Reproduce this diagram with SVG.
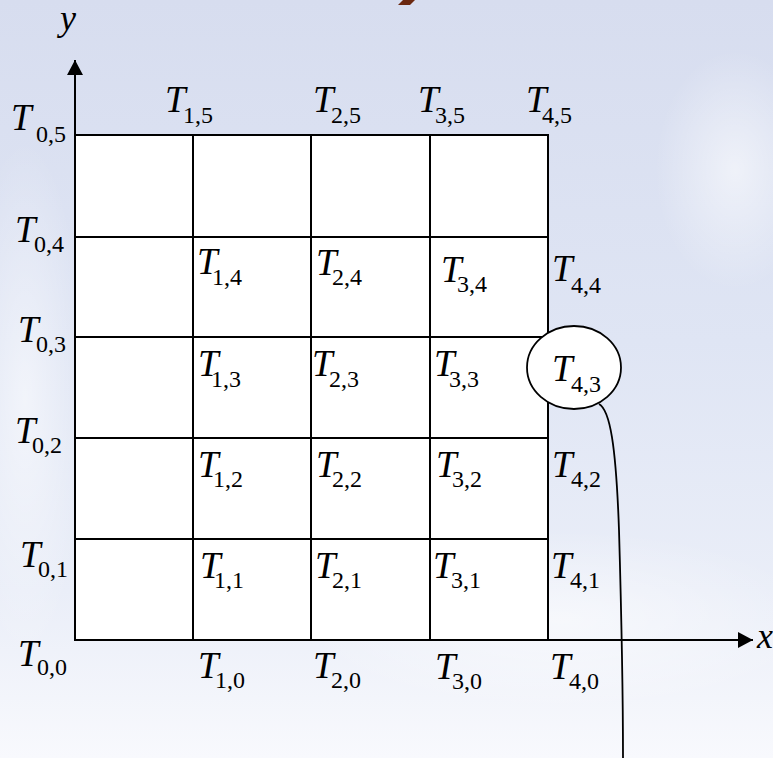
<svg xmlns="http://www.w3.org/2000/svg" width="773" height="758" viewBox="0 0 773 758">
<defs>
<linearGradient id="bg" x1="0" y1="0" x2="0" y2="1">
<stop offset="0" stop-color="#d7ddef"/>
<stop offset="0.45" stop-color="#dfe5f4"/>
<stop offset="0.78" stop-color="#eaeef8"/>
<stop offset="1" stop-color="#f8f9fd"/>
</linearGradient>
<radialGradient id="hlR" cx="0.5" cy="0.5" r="0.5">
<stop offset="0" stop-color="#ffffff" stop-opacity="0.55"/>
<stop offset="1" stop-color="#ffffff" stop-opacity="0"/>
</radialGradient>
<marker id="arr" markerWidth="16" markerHeight="16" refX="15" refY="8" orient="auto" markerUnits="userSpaceOnUse">
<path d="M0,0 L15,8 L0,16 Z" fill="#000"/>
</marker>
<style>
.T{font-family:"Liberation Serif","Times New Roman",serif;font-style:italic;font-size:37px;fill:#000}
.s{font-family:"Liberation Serif","Times New Roman",serif;font-size:24px;fill:#000}
.ax{font-family:"Liberation Serif","Times New Roman",serif;font-style:italic;font-size:36px;fill:#000}
.cell{fill:#fff;stroke:#000;stroke-width:2}
.ln{fill:none;stroke:#000;stroke-width:2}
</style>
</defs>
<rect width="773" height="758" fill="url(#bg)"/>
<ellipse cx="735" cy="170" rx="80" ry="120" fill="url(#hlR)"/>
<ellipse cx="25" cy="400" rx="60" ry="260" fill="url(#hlR)"/>
<ellipse cx="560" cy="620" rx="260" ry="90" fill="url(#hlR)"/>
<polygon points="403,0 415,0 410,5 398,5" fill="#6b2810"/>

<g id="grid">
<rect x="75" y="135" width="473" height="505" class="cell"/>
<path class="ln" d="M193,135 V640 M311,135 V640 M430,135 V640 M75,237 H548 M75,337 H548 M75,438 H548 M75,539 H548"/>
</g>

<g id="connectors">
<line x1="75" y1="640" x2="75" y2="60" class="ln" marker-end="url(#arr)"/>
<line x1="75" y1="640" x2="753" y2="640" class="ln" marker-end="url(#arr)"/>
<path d="M599,404 C610,410 616,445 619,530 C621,600 623,690 623,758" fill="none" stroke="#000" stroke-width="1.8"/>
</g>

<g id="node-T43">
<ellipse cx="574" cy="367.5" rx="47" ry="41.5" fill="#fff" stroke="#000" stroke-width="1.8"/>
<text><tspan class="T" x="552" y="381">T</tspan><tspan class="s" x="571" y="392">4,3</tspan></text>
</g>

<g id="axis-labels">
<text class="ax" x="60" y="30">y</text>
<text class="ax" x="757" y="648">x</text>
</g>

<g id="node-T05"><text><tspan class="T" x="11" y="130">T</tspan><tspan class="s" x="36" y="142">0,5</tspan></text></g>
<g id="node-T15"><text><tspan class="T" x="165" y="112">T</tspan><tspan class="s" x="183" y="123">1,5</tspan></text></g>
<g id="node-T25"><text><tspan class="T" x="313" y="112">T</tspan><tspan class="s" x="331" y="123">2,5</tspan></text></g>
<g id="node-T35"><text><tspan class="T" x="418" y="112">T</tspan><tspan class="s" x="435" y="123">3,5</tspan></text></g>
<g id="node-T45"><text><tspan class="T" x="526" y="112">T</tspan><tspan class="s" x="542" y="123">4,5</tspan></text></g>

<g id="node-T04"><text><tspan class="T" x="15" y="242">T</tspan><tspan class="s" x="34" y="252">0,4</tspan></text></g>
<g id="node-T14"><text><tspan class="T" x="197" y="274">T</tspan><tspan class="s" x="212" y="285">1,4</tspan></text></g>
<g id="node-T24"><text><tspan class="T" x="316" y="275">T</tspan><tspan class="s" x="332" y="285">2,4</tspan></text></g>
<g id="node-T34"><text><tspan class="T" x="441" y="282">T</tspan><tspan class="s" x="457" y="292">3,4</tspan></text></g>
<g id="node-T44"><text><tspan class="T" x="552" y="281">T</tspan><tspan class="s" x="571" y="293">4,4</tspan></text></g>

<g id="node-T03"><text><tspan class="T" x="18" y="342">T</tspan><tspan class="s" x="36" y="352">0,3</tspan></text></g>
<g id="node-T13"><text><tspan class="T" x="198" y="376">T</tspan><tspan class="s" x="211" y="387">1,3</tspan></text></g>
<g id="node-T23"><text><tspan class="T" x="312" y="376">T</tspan><tspan class="s" x="329" y="387">2,3</tspan></text></g>
<g id="node-T33"><text><tspan class="T" x="434" y="376">T</tspan><tspan class="s" x="449" y="387">3,3</tspan></text></g>

<g id="node-T02"><text><tspan class="T" x="15" y="443">T</tspan><tspan class="s" x="32" y="453">0,2</tspan></text></g>
<g id="node-T12"><text><tspan class="T" x="198" y="477">T</tspan><tspan class="s" x="213" y="487">1,2</tspan></text></g>
<g id="node-T22"><text><tspan class="T" x="316" y="477">T</tspan><tspan class="s" x="332" y="487">2,2</tspan></text></g>
<g id="node-T32"><text><tspan class="T" x="436" y="477">T</tspan><tspan class="s" x="452" y="487">3,2</tspan></text></g>
<g id="node-T42"><text><tspan class="T" x="552" y="477">T</tspan><tspan class="s" x="571" y="487">4,2</tspan></text></g>

<g id="node-T01"><text><tspan class="T" x="20" y="567">T</tspan><tspan class="s" x="38" y="577">0,1</tspan></text></g>
<g id="node-T11"><text><tspan class="T" x="200" y="578">T</tspan><tspan class="s" x="214" y="588">1,1</tspan></text></g>
<g id="node-T21"><text><tspan class="T" x="315" y="578">T</tspan><tspan class="s" x="332" y="588">2,1</tspan></text></g>
<g id="node-T31"><text><tspan class="T" x="433" y="578">T</tspan><tspan class="s" x="451" y="588">3,1</tspan></text></g>
<g id="node-T41"><text><tspan class="T" x="551" y="578">T</tspan><tspan class="s" x="570" y="588">4,1</tspan></text></g>

<g id="node-T00"><text><tspan class="T" x="18" y="666">T</tspan><tspan class="s" x="37" y="675">0,0</tspan></text></g>
<g id="node-T10"><text><tspan class="T" x="198" y="678">T</tspan><tspan class="s" x="215" y="688">1,0</tspan></text></g>
<g id="node-T20"><text><tspan class="T" x="313" y="678">T</tspan><tspan class="s" x="331" y="688">2,0</tspan></text></g>
<g id="node-T30"><text><tspan class="T" x="435" y="679">T</tspan><tspan class="s" x="452" y="689">3,0</tspan></text></g>
<g id="node-T40"><text><tspan class="T" x="550" y="679">T</tspan><tspan class="s" x="569" y="689">4,0</tspan></text></g>
</svg>
